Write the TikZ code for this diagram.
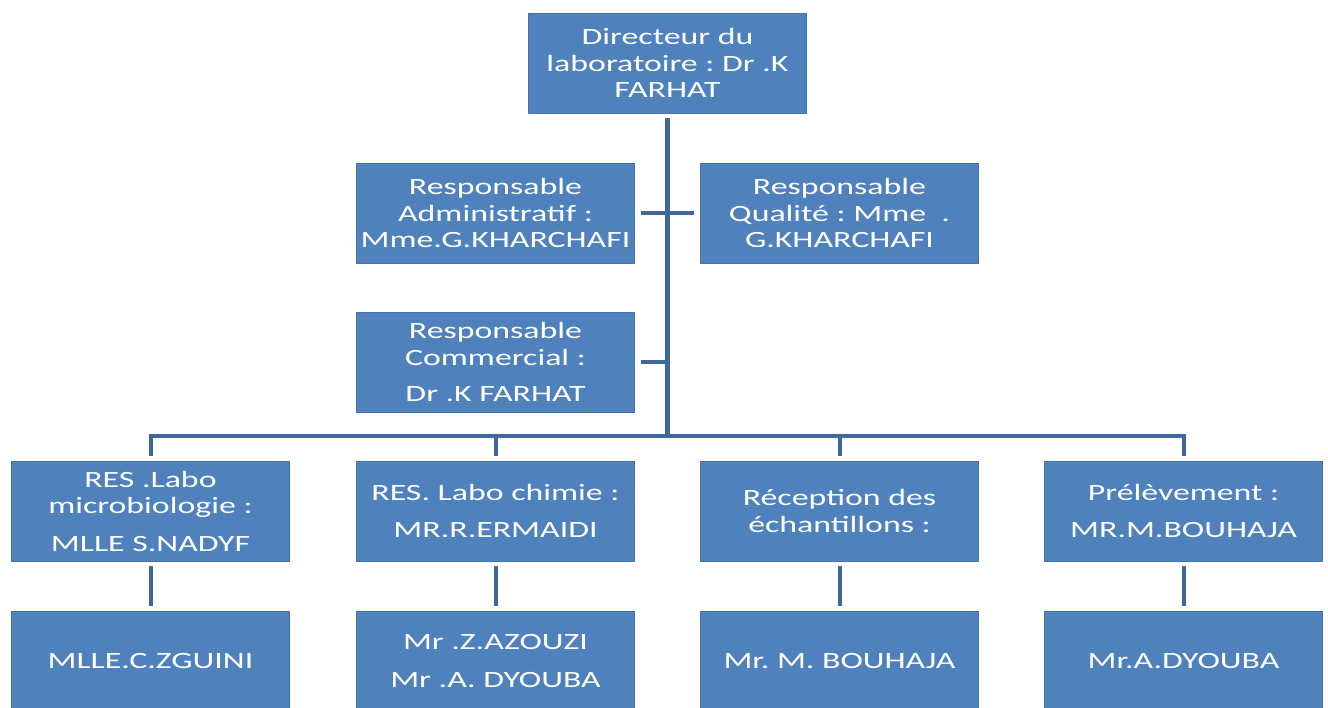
\documentclass[tikz,border=0pt]{standalone}
\usepackage{fontspec}
\setmainfont{Carlito}[FakeStretch=1.45]
\usetikzlibrary{calc}
\definecolor{boxfill}{HTML}{4F81BD}
\definecolor{boxline}{HTML}{4372AC}
\definecolor{conncol}{HTML}{41689B}
\tikzset{
 orgbox/.style={rectangle, fill=boxfill, draw=boxline, line width=0.6pt, minimum width=209pt, minimum height=75pt, inner sep=0pt, text=white, align=center, font=\fontsize{17.5}{20}\selectfont\frenchspacing},
 conn/.style={draw=conncol, line width=3pt},
 trunk/.style={draw=conncol, line width=4pt},
}
\begin{document}
\frenchspacing
\begin{tikzpicture}[x=0.75pt,y=-0.75pt]
\useasboundingbox (0,0) rectangle (1328,707);
\clip (0,0) rectangle (1328,707);
\node[orgbox] (dir) at (667.5,63) {Directeur du\\laboratoire : Dr .K\\FARHAT};
\node[orgbox] (adm) at (495.5,213) {Responsable\\Administratif :\\Mme.G.KHARCHAFI};
\node[orgbox] (qual) at (839.5,213) {Responsable\\Qualité : Mme\ \ .\\G.KHARCHAFI};
\node[orgbox] (com) at (495.5,362) {Responsable\\Commercial :\\[7pt]Dr .K FARHAT};
\node[orgbox] (ra) at (150.5,511) {RES .Labo\\microbiologie :\\[8pt]MLLE S.NADYF};
\node[orgbox] (rb) at (495.5,511) {RES. Labo chimie :\\[8pt]MR.R.ERMAIDI};
\node[orgbox] (rc) at (839.5,511) {Réception des\\échantillons :};
\node[orgbox] (rd) at (1183.5,511) {Prélèvement :\\[8pt]MR.M.BOUHAJA};
\node[orgbox] (sa) at (150.5,661) {MLLE.C.ZGUINI};
\node[orgbox] (sb) at (495.5,661) {Mr .Z.AZOUZI\\[8pt]Mr .A. DYOUBA};
\node[orgbox] (sc) at (839.5,661) {Mr. M. BOUHAJA};
\node[orgbox] (sd) at (1183.5,661) {Mr.A.DYOUBA};
\coordinate (bl) at (150.5,436);
\coordinate (br) at (1183.5,436);
\draw[trunk] ($(dir.south)+(0,5)$) -- (dir.south |- bl);
\draw[conn] ($(adm.east)+(6,0)$) -- ($(qual.west)+(-6,0)$);
\draw[conn] ($(com.east)+(6,0)$) -- (com.east -| dir.south);
\draw[conn] ($(ra.north)+(0,-5)$) -- (bl) -- (br) -- ($(rd.north)+(0,-5)$);
\draw[conn] ($(rb.north)+(0,-5)$) -- (rb.north |- bl);
\draw[conn] ($(rc.north)+(0,-5)$) -- (rc.north |- bl);
\draw[conn] ($(ra.south)+(0,5)$) -- ($(sa.north)+(0,-5)$);
\draw[conn] ($(rb.south)+(0,5)$) -- ($(sb.north)+(0,-5)$);
\draw[conn] ($(rc.south)+(0,5)$) -- ($(sc.north)+(0,-5)$);
\draw[conn] ($(rd.south)+(0,5)$) -- ($(sd.north)+(0,-5)$);
\end{tikzpicture}
\end{document}
